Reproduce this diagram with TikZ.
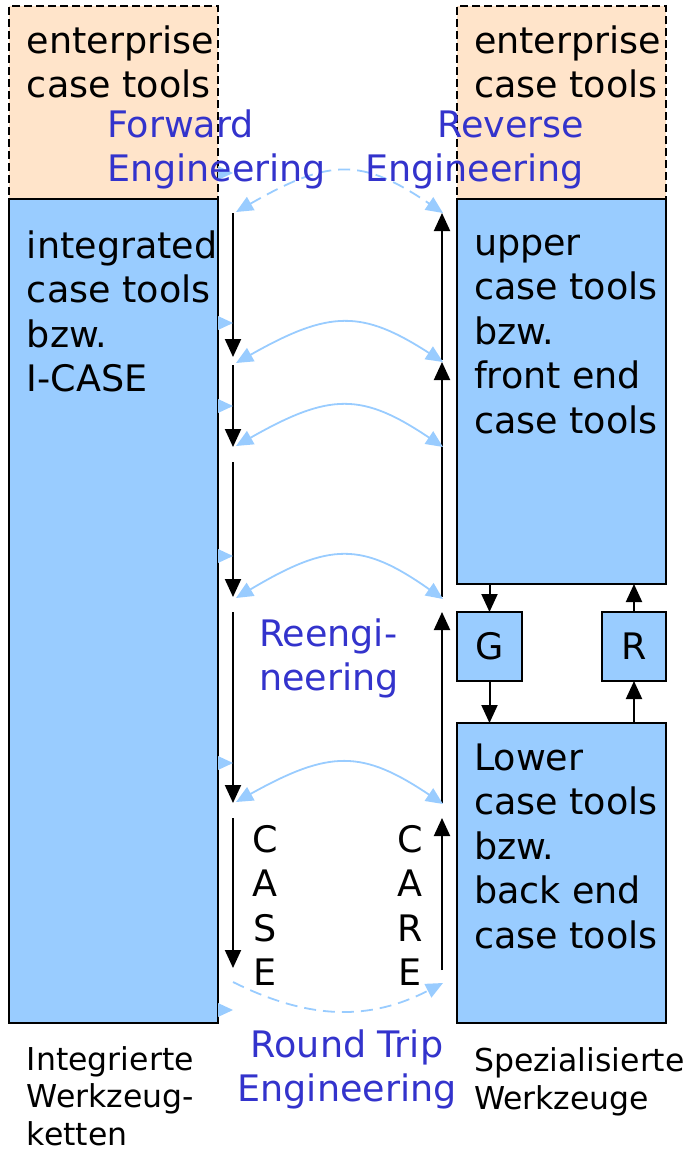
\documentclass[tikz,border=0pt]{standalone}
\usepackage{fontspec}
\setmainfont{DejaVu Sans}
\usetikzlibrary{arrows.meta}
\definecolor{peach}{HTML}{FFE4CA}
\definecolor{toolblue}{HTML}{99CCFF}
\definecolor{linkblue}{HTML}{99CCFF}
\definecolor{labelblue}{HTML}{3333CC}
\begin{document}
\begin{tikzpicture}[x=1pt,y=-1pt,
  every node/.style={inner sep=0pt,outer sep=0pt},
  tier/.style={draw=black,line width=2pt,dash pattern=on 8pt off 4pt,fill=peach,anchor=north west},
  toolbox/.style={draw=black,line width=2.5pt,fill=toolblue,anchor=north west},
  boxtext/.style={font=\fontsize{36.5}{44.5}\selectfont,align=left,anchor=base west},
  labeltext/.style={boxtext,text=labelblue},
  smalltext/.style={font=\fontsize{31.5}{37.5}\selectfont,align=left,anchor=base west},
  flow/.style={line width=2pt,-{Triangle[width=16pt,length=18pt]}},
  link/.style={draw=linkblue,line width=1.8pt,{Triangle[width=15pt,length=17pt]}-{Triangle[width=15pt,length=17pt]}},
  oneway/.style={draw=linkblue,line width=1.8pt,-{Triangle[width=15pt,length=17pt]}},
  longdash/.style={dash pattern=on 12pt off 7pt}]
\useasboundingbox (0,0) rectangle (689,1151);

% tool columns
\node[tier,minimum width=209pt,minimum height=193pt] (entL) at (9,6) {};
\node[toolbox,minimum width=209pt,minimum height=824pt] (icase) at (9,199) {};
\node[tier,minimum width=209pt,minimum height=193pt] (entR) at (457,6) {};
\node[toolbox,minimum width=209pt,minimum height=385pt] (upper) at (457,199) {};
\node[toolbox,minimum width=65pt,minimum height=69pt,font=\fontsize{36.5}{44.5}\selectfont] (G) at (457,612) {G};
\node[toolbox,minimum width=64pt,minimum height=69pt,font=\fontsize{36.5}{44.5}\selectfont] (R) at (602,612) {R};
\node[toolbox,minimum width=209pt,minimum height=300pt] (lower) at (457,723) {};

% generator / reverse step between upper and lower tools
\draw[flow] (upper.south -| G.north) -- (G.north);
\draw[flow] (G.south) -- (G.south |- lower.north);
\draw[flow] (R.south |- lower.north) -- (R.south);
\draw[flow] (R.north) -- (R.north |- upper.south);

% downward CASE chain
\foreach \a/\b [count=\i] in {213/357,365/447,462/597,612/803,818/968}{
  \coordinate (dn\i a) at (233,\a);
  \coordinate (dn\i b) at (233,\b);
  \draw[flow] (dn\i a) -- (dn\i b);
}
% upward CARE chain
\foreach \a/\b [count=\i] in {360/213,597/362,803/612,970/818}{
  \coordinate (up\i a) at (442,\a);
  \coordinate (up\i b) at (442,\b);
  \draw[flow] (up\i a) -- (up\i b);
}

% round-trip links between the chains
\foreach \l/\r/\ctl [count=\i] in {363/362/309.8,446/447/392.5,598/599/541.9,802/804/749.7}{
  \coordinate (lk\i a) at (236,\l);
  \coordinate (lk\i b) at (443,\r);
  \draw[link] (lk\i a) .. controls (330,\ctl) and (362,\ctl) .. (lk\i b);
}
\coordinate (topA) at (236,212);
\coordinate (topB) at (443,213);
\draw[link,longdash] (topA) .. controls (330,158) and (362,158) .. (topB);
\coordinate (botA) at (233,982);
\coordinate (botB) at (443,983);
\draw[oneway,longdash] (botA) .. controls (310,1020.5) and (370,1020.5) .. (botB);

% small markers on the integrated column
\foreach \y in {173,323,406,556,763,1010}
  \fill[linkblue] (218,\y-7) -- (233,\y) -- (218,\y+7) -- cycle;

% texts (each node is placed at the baseline of its last line)
\node[boxtext] (entLt) at (27,97.5) {enterprise\\case tools};
\node[boxtext] (entRt) at (474,97.5) {enterprise\\case tools};
\node[boxtext] (icaseT) at (27,391.5) {integrated\\case tools\\bzw.\\I-CASE};
\node[boxtext] (upperT) at (474,433) {upper\\case tools\\bzw.\\front end\\case tools};
\node[boxtext] (lowerT) at (474,948) {Lower\\case tools\\bzw.\\back end\\case tools};
\node[labeltext] (fwd) at (107,181.5) {Forward\\Engineering};
\node[labeltext,align=right,anchor=base east] (rev) at (584,181.5) {Reverse\\Engineering};
\node[labeltext] (reeng) at (259,690.5) {Reengi-\\neering};
\node[labeltext,align=center,anchor=base] (rte) at (347,1101.5) {Round Trip\\Engineering};
\node[boxtext,align=center,anchor=base] (caseT) at (265,985.5) {C\\A\\S\\E};
\node[boxtext,align=center,anchor=base] (careT) at (410,985.5) {C\\A\\R\\E};
\node[smalltext] (integ) at (27,1145) {Integrierte\\Werkzeug-\\ketten};
\node[smalltext] (spez) at (474,1109) {Spezialisierte\\Werkzeuge};
\end{tikzpicture}
\end{document}
